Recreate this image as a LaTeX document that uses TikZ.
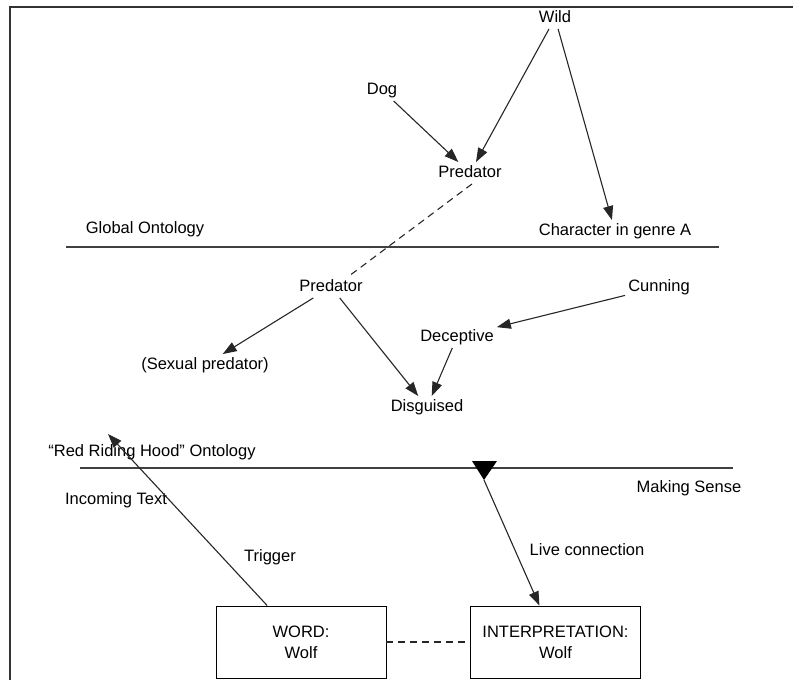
\documentclass[tikz,border=0pt]{standalone}
\usepackage{fontspec}
\setmainfont{Liberation Sans}
\usepackage{tikz}
\usetikzlibrary{arrows.meta}

\begin{document}
\begin{tikzpicture}[x=1pt,y=-1pt]
		\useasboundingbox (0,0) rectangle (793,680);
		\draw[line width=2pt,black!80] (10,680) -- (10,7) -- (793,7);

		% the two ontology levels
		\begin{scope}[line width=1.6pt,black!75]
		    \draw (66,247) -- (719,247);
		    \draw (80,468) -- (733,468);
		\end{scope}

		\begin{scope}[every node/.style={font=\fontsize{16.5}{21}\selectfont,text height=12pt,text depth=3.5pt,inner sep=3pt}]
		    \node (wild) at (555,18) {Wild};
		    \node (dog) at (382,90) {Dog};
		    \node (pred-g) at (470,173) {Predator};
		    \node (global) at (145,229) {Global Ontology};
		    \node (char-a) at (615,231) {Character in genre A};
		    \node (pred-r) at (331,287) {Predator};
		    \node (cunning) at (659,287) {Cunning};
		    \node (deceptive) at (457,337) {Deceptive};
		    \node (sexual) at (205,365) {(Sexual predator)};
		    \node (disguised) at (427,407) {Disguised};
		    \node (rrh) at (152,452) {“Red Riding Hood” Ontology};
		    \node (making) at (689,488) {Making Sense};
		    \node (incoming) at (116,500) {Incoming Text};
		    \node (trigger) at (270,557) {Trigger};
		    \node (live) at (587,551) {Live connection};
		\end{scope}

		\begin{scope}[every node/.style={draw,line width=0.9pt,font=\fontsize{16.5}{21}\selectfont,align=center,minimum width=170pt,minimum height=72pt,inner sep=0pt}]
		    \node (word) at (301,642) {WORD:\\Wolf};
		    \node (interp) at (555.5,642) {INTERPRETATION:\\Wolf};
		\end{scope}

		\fill (472,461) -- (497,461) -- (484,480) -- cycle;
		\coordinate (sense) at (484,480);
		\coordinate (text-in) at (108,434);

		\begin{scope}[>={Triangle[length=14pt,width=10pt]},
		              every edge/.style={draw=black!85,line width=1.1pt}]
		    \path (wild) edge[->] (pred-g);
		    \path (wild) edge[->] (char-a);
		    \path (dog) edge[->] (pred-g);
		    \path ([xshift=2pt]pred-g.south) edge[dash pattern=on 7pt off 5pt] ([xshift=18pt]pred-r.north);
		    \path (pred-r) edge[->] (sexual);
		    \path (pred-r) edge[->] (disguised);
		    \path (cunning) edge[->] (deceptive);
		    \path (deceptive) edge[->] (disguised);
		    \path (word) edge[->] (text-in);
		    \path (sense) edge[->] (interp);
		    \path (word) edge[dash pattern=on 7pt off 5pt] (interp);
		\end{scope}
\end{tikzpicture}
\end{document}
